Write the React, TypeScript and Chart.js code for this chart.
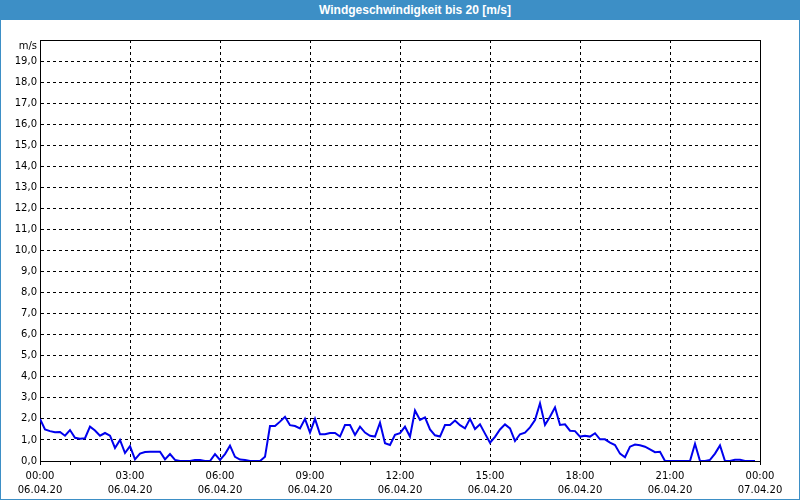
import React, { useEffect, useRef } from 'react';
import { Chart, registerables } from 'chart.js';

Chart.register(...registerables);

const TITLE = 'Windgeschwindigkeit bis 20 [m/s]';
const Y_UNIT = 'm/s';
const SAMPLE_STEP_MIN = 10;

// 10-minute wind speed samples in m/s, 06.04.20 00:00 .. 23:50
const windSpeed = [
  2.0, 1.5, 1.42, 1.37, 1.38, 1.2, 1.47, 1.1, 1.06, 1.08,
  1.63, 1.45, 1.2, 1.33, 1.2, 0.62, 1.0, 0.38, 0.71, 0.08,
  0.35, 0.43, 0.44, 0.44, 0.44, 0.08, 0.33, 0.05, 0, 0,
  0, 0.05, 0.05, 0, 0, 0.33, 0.05, 0.33, 0.73, 0.2,
  0.07, 0.05, 0, 0, 0, 0.2, 1.66, 1.66, 1.87, 2.1,
  1.7, 1.66, 1.55, 2.0, 1.35, 2.0, 1.27, 1.27, 1.33, 1.33,
  1.16, 1.71, 1.71, 1.24, 1.63, 1.35, 1.2, 1.16, 1.82, 0.84,
  0.76, 1.24, 1.32, 1.63, 1.16, 2.4, 1.95, 2.07, 1.5, 1.22,
  1.16, 1.71, 1.71, 1.92, 1.7, 1.55, 2.0, 1.52, 1.74, 1.3,
  0.87, 1.15, 1.5, 1.74, 1.55, 0.95, 1.27, 1.35, 1.6, 1.95,
  2.74, 1.71, 2.1, 2.55, 1.71, 1.74, 1.44, 1.42, 1.16, 1.2,
  1.16, 1.32, 1.03, 1.03, 0.87, 0.76, 0.35, 0.18, 0.68, 0.78,
  0.75, 0.68, 0.55, 0.42, 0.44, 0, 0, 0, 0, 0,
  0, 0.82, 0, 0, 0.05, 0.35, 0.74, 0, 0, 0.06,
  0.06, 0, 0, 0,
];

const xTickTimes = ['00:00', '03:00', '06:00', '09:00', '12:00', '15:00', '18:00', '21:00', '00:00'];
const xTickDates = ['06.04.20', '06.04.20', '06.04.20', '06.04.20', '06.04.20', '06.04.20', '06.04.20', '06.04.20', '07.04.20'];

const BLUE = '#3d8fc6';
const FONT = "'DejaVu Sans', sans-serif";

const frameBorderPlugin = {
  id: 'frameBorder',
  afterDraw(chart: any) {
    const { ctx, chartArea } = chart;
    const a = (v: number) => Math.round(v - 0.5) + 0.5;
    ctx.save();
    ctx.strokeStyle = '#000';
    ctx.lineWidth = 1;
    ctx.setLineDash([]);
    ctx.beginPath();
    ctx.moveTo(a(chartArea.left), a(chartArea.top));
    ctx.lineTo(a(chartArea.right), a(chartArea.top));
    ctx.lineTo(a(chartArea.right), a(chartArea.bottom));
    ctx.stroke();
    ctx.restore();
  },
};

export default function App() {
  const canvasRef = useRef<HTMLCanvasElement | null>(null);

  useEffect(() => {
    document.body.style.margin = '0';
    const canvas = canvasRef.current;
    if (!canvas) return;
    const points = windSpeed.map((v, i) => ({ x: i * SAMPLE_STEP_MIN, y: v }));
    const chart = new Chart(canvas, {
      type: 'line',
      data: {
        datasets: [
          {
            data: points,
            borderColor: '#0000ee',
            borderWidth: 2,
            pointRadius: 0,
            tension: 0,
            fill: false,
          },
        ],
      },
      options: {
        animation: false,
        responsive: false,
        maintainAspectRatio: false,
        layout: { padding: { left: 0, top: 20, right: 39, bottom: 0 } },
        plugins: {
          legend: { display: false },
          title: { display: false },
          tooltip: { enabled: false },
        },
        scales: {
          x: {
            type: 'linear',
            min: 0,
            max: 1440,
            afterFit: (scale: any) => {
              scale.height = 38;
            },
            ticks: {
              stepSize: 60,
              autoSkip: false,
              maxRotation: 0,
              minRotation: 0,
              padding: 4,
              color: '#000',
              font: { family: FONT, size: 10, lineHeight: 1.4 },
              callback: (value: any) => {
                const v = Number(value);
                if (v % 180 !== 0) return '';
                const idx = v / 180;
                return [xTickTimes[idx], xTickDates[idx]];
              },
            },
            grid: {
              drawTicks: true,
              tickLength: 4,
              tickColor: '#000',
              lineWidth: 1,
              color: (ctx: any) =>
                ctx.tick && Number(ctx.tick.value) % 180 === 0 ? '#000' : 'rgba(0,0,0,0)',
            },
            border: { display: true, color: '#000', width: 1, dash: [3, 3] },
          },
          y: {
            type: 'linear',
            min: 0,
            max: 20,
            afterFit: (scale: any) => {
              scale.width = 39;
            },
            ticks: {
              stepSize: 1,
              autoSkip: false,
              padding: 3,
              color: '#000',
              font: { family: FONT, size: 10, lineHeight: 1.3 },
              callback: (value: any) => {
                const v = Number(value);
                if (v === 20) return ['', Y_UNIT];
                return v.toFixed(1).replace('.', ',');
              },
            },
            grid: {
              drawTicks: false,
              lineWidth: 1,
              color: '#000',
            },
            border: { display: true, color: '#000', width: 1, dash: [3, 3] },
          },
        },
      },
      plugins: [frameBorderPlugin],
    });
    return () => chart.destroy();
  }, []);

  return (
    <div
      style={{
        position: 'relative',
        width: 800,
        height: 500,
        boxSizing: 'border-box',
        borderLeft: `1px solid ${BLUE}`,
        borderRight: `1px solid ${BLUE}`,
        borderBottom: `1px solid ${BLUE}`,
        background: '#fff',
        overflow: 'hidden',
      }}
    >
      <div
        style={{
          height: 20,
          lineHeight: '20px',
          background: BLUE,
          color: '#fff',
          fontFamily: "'Liberation Sans', Arial, sans-serif",
          fontWeight: 'bold',
          fontSize: 12,
          textAlign: 'center',
          paddingLeft: 30,
          boxSizing: 'border-box',
          whiteSpace: 'nowrap',
        }}
      >
        {TITLE}
      </div>
      <canvas ref={canvasRef} width={798} height={479} style={{ display: 'block', width: 798, height: 479 }} />
    </div>
  );
}
